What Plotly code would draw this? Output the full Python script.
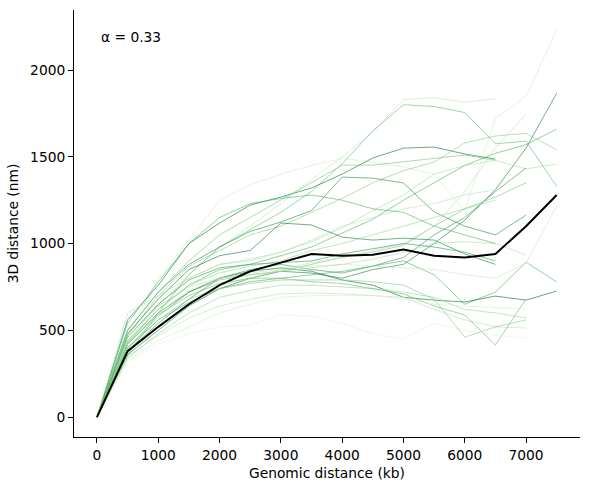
import plotly.graph_objects as go

genomic_kb = [0, 500, 1000, 1500, 2000, 2500, 3000, 3500, 4000, 4500, 5000, 5500, 6000, 6500, 7000, 7500]

traces = {
    "s01": [0, 480, 800, 1020, 1250, 1340, 1400, 1450, 1490, 1470, 1440, 1400, 1190, 1720, 1850, 2230],
    "s02": [0, 420, 640, 820, 980, 1100, 1230, 1370, 1500, 1640, 1830, 1840, 1815, 1833],
    "s03": [0, 360, 600, 820, 980, 1080, 1180, 1300, 1460, 1650, 1800, 1790, 1755, 1575, 1590, 1330],
    "s04": [0, 560, 760, 1000, 1118, 1222, 1268, 1320, 1400, 1493, 1550, 1556, 1516, 1487],
    "s05": [0, 360, 500, 640, 740, 800, 840, 830, 800, 850, 880, 1000, 1135, 1310, 1550, 1867],
    "s06": [0, 430, 620, 760, 850, 880, 930, 980, 1060, 1140, 1250, 1350, 1450, 1520, 1570, 1660],
    "s07": [0, 470, 700, 870, 960, 1050, 1100, 1180, 1260, 1350, 1420, 1470, 1580, 1620, 1635, 1540],
    "s08": [0, 440, 650, 800, 880, 910, 950, 1010, 1090, 1190, 1280, 1400, 1450, 1480, 1430, 1458],
    "s09": [0, 380, 540, 680, 800, 850, 880, 850, 830, 870, 920, 1050, 1150, 1300, 1435],
    "s10": [0, 400, 580, 720, 790, 820, 840, 880, 920, 950, 990, 1100, 1200, 1268, 1350],
    "s11": [0, 350, 520, 650, 760, 800, 850, 890, 920, 960, 1000, 1100, 1300, 1550, 1746],
    "s12": [0, 500, 720, 880, 980, 1070, 1124, 1190, 1383, 1377, 1349, 1182, 1100, 1050, 1164],
    "s13": [0, 480, 680, 850, 930, 960, 1118, 1107, 1037, 1020, 1031, 1020, 940, 880],
    "s14": [0, 500, 720, 900, 1050, 1150, 1250, 1350, 1452, 1452, 1470, 1490, 1510, 1480],
    "s15": [0, 400, 560, 660, 740, 780, 800, 820, 840, 870, 900, 820, 650, 720, 893, 778],
    "s16": [0, 420, 600, 720, 800, 840, 860, 840, 790, 760, 690, 674, 663, 697, 674, 726],
    "s17": [0, 340, 480, 600, 690, 730, 760, 760, 750, 740, 720, 690, 620, 600, 571],
    "s18": [0, 350, 470, 570, 640, 680, 710, 715, 710, 700, 690, 620, 560, 520, 513],
    "s19": [0, 320, 420, 480, 520, 530, 590, 580, 540, 480, 450, 540, 500, 470, 455],
    "s20": [0, 420, 590, 700, 770, 800, 800, 780, 770, 740, 710, 640, 588, 415, 680],
    "s21": [0, 390, 560, 680, 740, 770, 790, 790, 790, 780, 760, 680, 460, 520, 560],
    "s22": [0, 420, 600, 730, 800, 830, 850, 870, 880, 870, 860, 850, 820, 800, 888, 1215],
    "s23": [0, 330, 440, 520, 600, 650, 690, 700, 700, 700, 680, 650, 640, 630, 622],
    "s24": [0, 480, 640, 750, 800, 820, 840, 860, 880, 910, 950, 1000, 1010, 1000, 934],
    "s25": [0, 440, 620, 760, 830, 870, 900, 960, 1000, 1050, 1100, 1150, 1200, 1250],
    "s26": [0, 460, 650, 790, 860, 880, 890, 900, 940, 970, 1000, 980, 950, 900],
    "s27": [0, 600, 700, 800, 880, 900, 950, 1020, 1100, 1150, 1200, 1230, 1280, 1310],
    "s28": [0, 540, 780, 1000, 1150, 1230, 1260, 1280, 1250, 1200, 1180, 1100, 1050, 1000],
}

shade_levels = {
    "s01": 0.22, "s02": 0.28, "s03": 0.55, "s04": 0.85, "s05": 0.8, "s06": 0.6,
    "s07": 0.45, "s08": 0.35, "s09": 0.7, "s10": 0.5, "s11": 0.3, "s12": 0.75,
    "s13": 0.82, "s14": 0.5, "s15": 0.6, "s16": 0.88, "s17": 0.4, "s18": 0.3,
    "s19": 0.15, "s20": 0.55, "s21": 0.45, "s22": 0.25, "s23": 0.2, "s24": 0.35,
    "s25": 0.4, "s26": 0.7, "s27": 0.3, "s28": 0.6,
}

mean_distance = [0, 380, 520, 650, 760, 840, 890, 940, 930, 935, 965, 930, 920, 940, 1100, 1280]

annotation_text = "α = 0.33"

GREENS = [
    (0.0, (247, 252, 245)), (0.125, (229, 245, 224)), (0.25, (199, 233, 192)),
    (0.375, (161, 217, 155)), (0.5, (116, 196, 118)), (0.625, (65, 171, 93)),
    (0.75, (35, 139, 69)), (0.875, (0, 109, 44)), (1.0, (0, 68, 27)),
]


def greens(v, alpha=0.5):
    for (a, ca), (b, cb) in zip(GREENS[:-1], GREENS[1:]):
        if a <= v <= b:
            t = (v - a) / (b - a)
            c = [round(ca[i] + (cb[i] - ca[i]) * t) for i in range(3)]
            return f"rgba({c[0]},{c[1]},{c[2]},{alpha})"
    return "rgba(0,68,27,0.5)"


fig = go.Figure()
for name, vals in traces.items():
    fig.add_trace(go.Scatter(
        x=genomic_kb[:len(vals)], y=vals, mode="lines",
        line=dict(color=greens(shade_levels[name], 0.6), width=1),
        showlegend=False, hoverinfo="skip",
    ))

fig.add_trace(go.Scatter(
    x=genomic_kb, y=mean_distance, mode="lines",
    line=dict(color="black", width=2), showlegend=False,
))

font = dict(family="DejaVu Sans", size=13.8, color="black")

fig.add_annotation(
    text=annotation_text, xref="paper", yref="paper", x=0.05, y=0.937,
    xanchor="left", yanchor="middle", showarrow=False, font=font,
)

fig.update_layout(
    width=590, height=490,
    margin=dict(l=74, r=10, t=10, b=53),
    plot_bgcolor="white", paper_bgcolor="white",
    font=font,
    xaxis=dict(
        range=[-375, 7880], tickvals=[0, 1000, 2000, 3000, 4000, 5000, 6000, 7000],
        showgrid=False, zeroline=False, showline=True, linecolor="black", linewidth=1,
        ticks="outside", ticklen=5, tickwidth=1, tickcolor="black",
        title=dict(text="Genomic distance (kb)", standoff=6, font=font),
    ),
    yaxis=dict(
        range=[-115, 2346], tickvals=[0, 500, 1000, 1500, 2000],
        showgrid=False, zeroline=False, showline=True, linecolor="black", linewidth=1,
        ticks="outside", ticklen=5, tickwidth=1, tickcolor="black",
        title=dict(text="3D distance (nm)", standoff=8, font=font),
    ),
)

fig.write_html("out.html")
